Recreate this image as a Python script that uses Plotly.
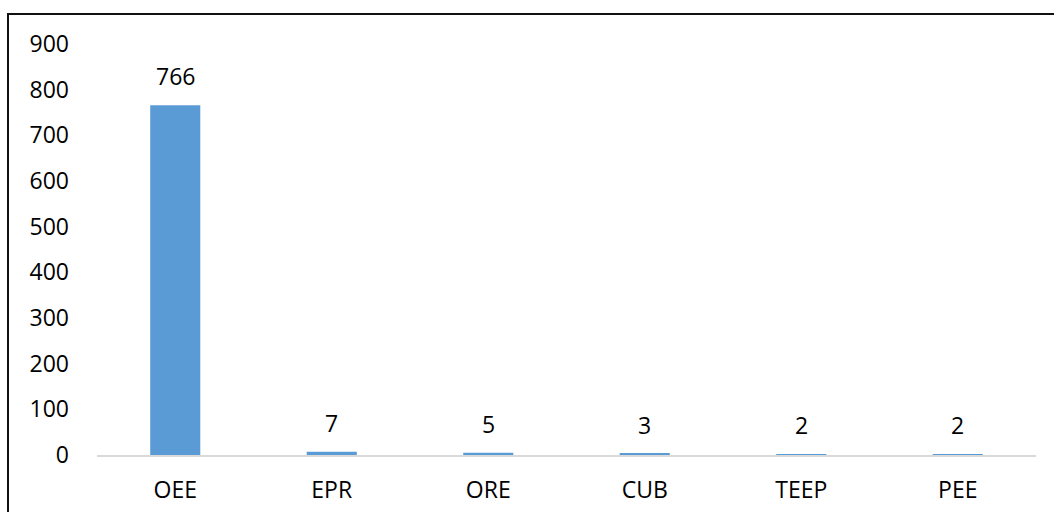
import plotly.graph_objects as go

categories = ["OEE", "EPR", "ORE", "CUB", "TEEP", "PEE"]
counts = [766, 7, 5, 3, 2, 2]
y_ticks = [0, 100, 200, 300, 400, 500, 600, 700, 800, 900]

W, H = 1054, 512
ML, MR, MT, MB = 97, 18, 44, 57
pw, ph = W - ML - MR, H - MT - MB

font = dict(family="Open Sans, Carlito, Calibri, sans-serif", size=23, color="#000000")

fig = go.Figure(
    go.Bar(
        x=categories,
        y=counts,
        marker=dict(color="#5B9BD5", line=dict(width=0)),
        hoverinfo="x+y",
    )
)

# value labels sit a little above each bar
for cat, val in zip(categories, counts):
    fig.add_annotation(
        x=cat, y=val, text=str(val),
        showarrow=False, yanchor="bottom", yshift=11,
        font=font,
    )

# outer frame: starts near top-left corner and runs off the right/bottom edges
fig.add_shape(
    type="rect",
    xref="paper", yref="paper",
    x0=(8 - ML) / pw, x1=(W + 10 - ML) / pw,
    y0=-(MB + 10) / ph, y1=(H - 14 - MB) / ph,
    line=dict(color="#111111", width=2),
    fillcolor="rgba(0,0,0,0)",
    layer="above",
)

fig.update_layout(
    width=W, height=H,
    margin=dict(l=ML, r=MR, t=MT, b=MB, autoexpand=False),
    paper_bgcolor="white",
    plot_bgcolor="white",
    bargap=0.68,
    showlegend=False,
    font=font,
    xaxis=dict(
        automargin=False,
        showgrid=False,
        showline=True,
        linecolor="#D9D9D9",
        linewidth=1.5,
        ticks="",
        ticklabelstandoff=14,
        tickfont=font,
    ),
    yaxis=dict(
        automargin=False,
        range=[0, 900],
        tickvals=y_ticks,
        showgrid=False,
        zeroline=False,
        showline=False,
        ticks="",
        ticklabelstandoff=27,
        tickfont=font,
    ),
)

fig.write_html("out.html")
